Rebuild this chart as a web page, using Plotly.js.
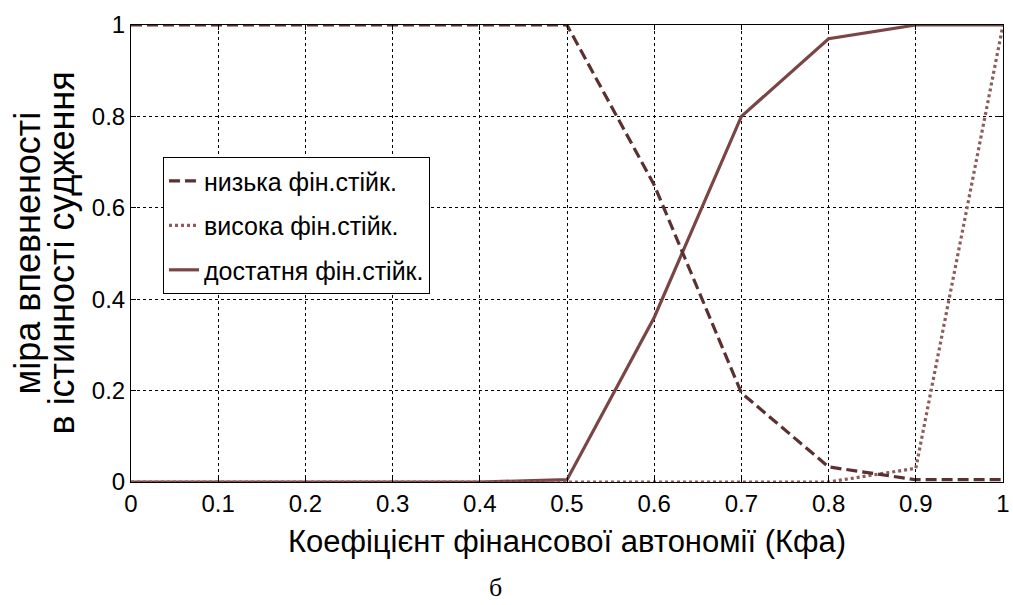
<!DOCTYPE html>
<html>
<head>
<meta charset="utf-8">
<script src="https://cdn.plot.ly/plotly-3.0.1.min.js"></script>
<style>html,body{margin:0;padding:0;background:#fff;}#chart{width:1013px;height:605px;}</style>
</head>
<body>
<div id="chart"></div>
<script>
var xValues = [0, 0.1, 0.2, 0.3, 0.4, 0.5, 0.6, 0.7, 0.8, 0.9, 1.0];
var lowStability = [1, 1, 1, 1, 1, 1, 0.65, 0.195, 0.033, 0.005, 0.005];
var highStability = [0, 0, 0, 0, 0, 0, 0, 0, 0, 0.03, 1];
var enoughStability = [0, 0, 0, 0, 0, 0.005, 0.36, 0.8, 0.97, 1, 1];
var seriesNames = ['низька фін.стійк.', 'висока фін.стійк.', 'достатня фін.стійк.'];
var xTicks = [0, 0.1, 0.2, 0.3, 0.4, 0.5, 0.6, 0.7, 0.8, 0.9, 1];
var yTicks = [0, 0.2, 0.4, 0.6, 0.8, 1];
var xTitle = 'Коефіцієнт фінансової автономії (Кфа)';
var yTitleLines = ['міра впевненості', 'в істинності судження'];
var caption = 'б';

var font = 'Liberation Sans, Arial, sans-serif';

var traces = [
  {x: xValues, y: enoughStability, name: seriesNames[2], mode: 'lines', legendgroup: 'c', legendrank: 3,
   line: {color: '#7a4545', width: 3.2}},
  {x: xValues, y: highStability, name: seriesNames[1], mode: 'lines', legendgroup: 'b', legendrank: 2,
   line: {color: '#8e5a5a', width: 3.2, dash: '3px,3px'}},
  {x: xValues, y: lowStability, name: seriesNames[0], mode: 'lines', legendgroup: 'a', legendrank: 1,
   line: {color: '#5a3030', width: 3.2, dash: '11px,5px'}}
];

var layout = {
  width: 1013, height: 605,
  margin: {l: 131, r: 10, t: 25, b: 123},
  paper_bgcolor: '#fff', plot_bgcolor: '#fff',
  font: {family: font, color: '#000', size: 24},
  showlegend: true,
  legend: {
    x: 0.0367, y: 0.711, xanchor: 'left', yanchor: 'top',
    bgcolor: '#fff', bordercolor: '#000', borderwidth: 1,
    font: {family: font, size: 25, color: '#000'},
    tracegroupgap: 9, traceorder: 'grouped'
  },
  xaxis: {
    range: [0, 1], tickvals: xTicks, ticktext: xTicks.map(String),
    showgrid: true, gridcolor: '#000', griddash: 'dot', gridwidth: 1,
    showline: true, linecolor: '#000', linewidth: 1, mirror: 'ticks',
    ticks: 'inside', ticklen: 5, tickcolor: '#000',
    zeroline: false, tickfont: {size: 24},
    title: {text: xTitle, font: {size: 31}, standoff: 14}
  },
  yaxis: {
    range: [0, 1], tickvals: yTicks, ticktext: yTicks.map(String),
    showgrid: true, gridcolor: '#000', griddash: 'dot', gridwidth: 1,
    showline: true, linecolor: '#000', linewidth: 1, mirror: 'ticks',
    ticks: 'inside', ticklen: 5, tickcolor: '#000',
    zeroline: false, tickfont: {size: 24}
  },
  annotations: [
    {text: yTitleLines[0], xref: 'paper', yref: 'paper', x: 0, y: 0.5, xanchor: 'center', yanchor: 'middle',
     xshift: -104, textangle: -90, showarrow: false, font: {family: font, size: 36}},
    {text: yTitleLines[1], xref: 'paper', yref: 'paper', x: 0, y: 0.5, xanchor: 'center', yanchor: 'middle',
     xshift: -70, textangle: -90, showarrow: false, font: {family: font, size: 36}},
    {text: caption, xref: 'paper', yref: 'paper', x: 0, y: 0, xanchor: 'center', yanchor: 'middle',
     xshift: 364, yshift: -105, showarrow: false, font: {family: 'Liberation Serif, Times New Roman, serif', size: 26}}
  ]
};

Plotly.newPlot('chart', traces, layout, {displayModeBar: false, staticPlot: true});
</script>
</body>
</html>
